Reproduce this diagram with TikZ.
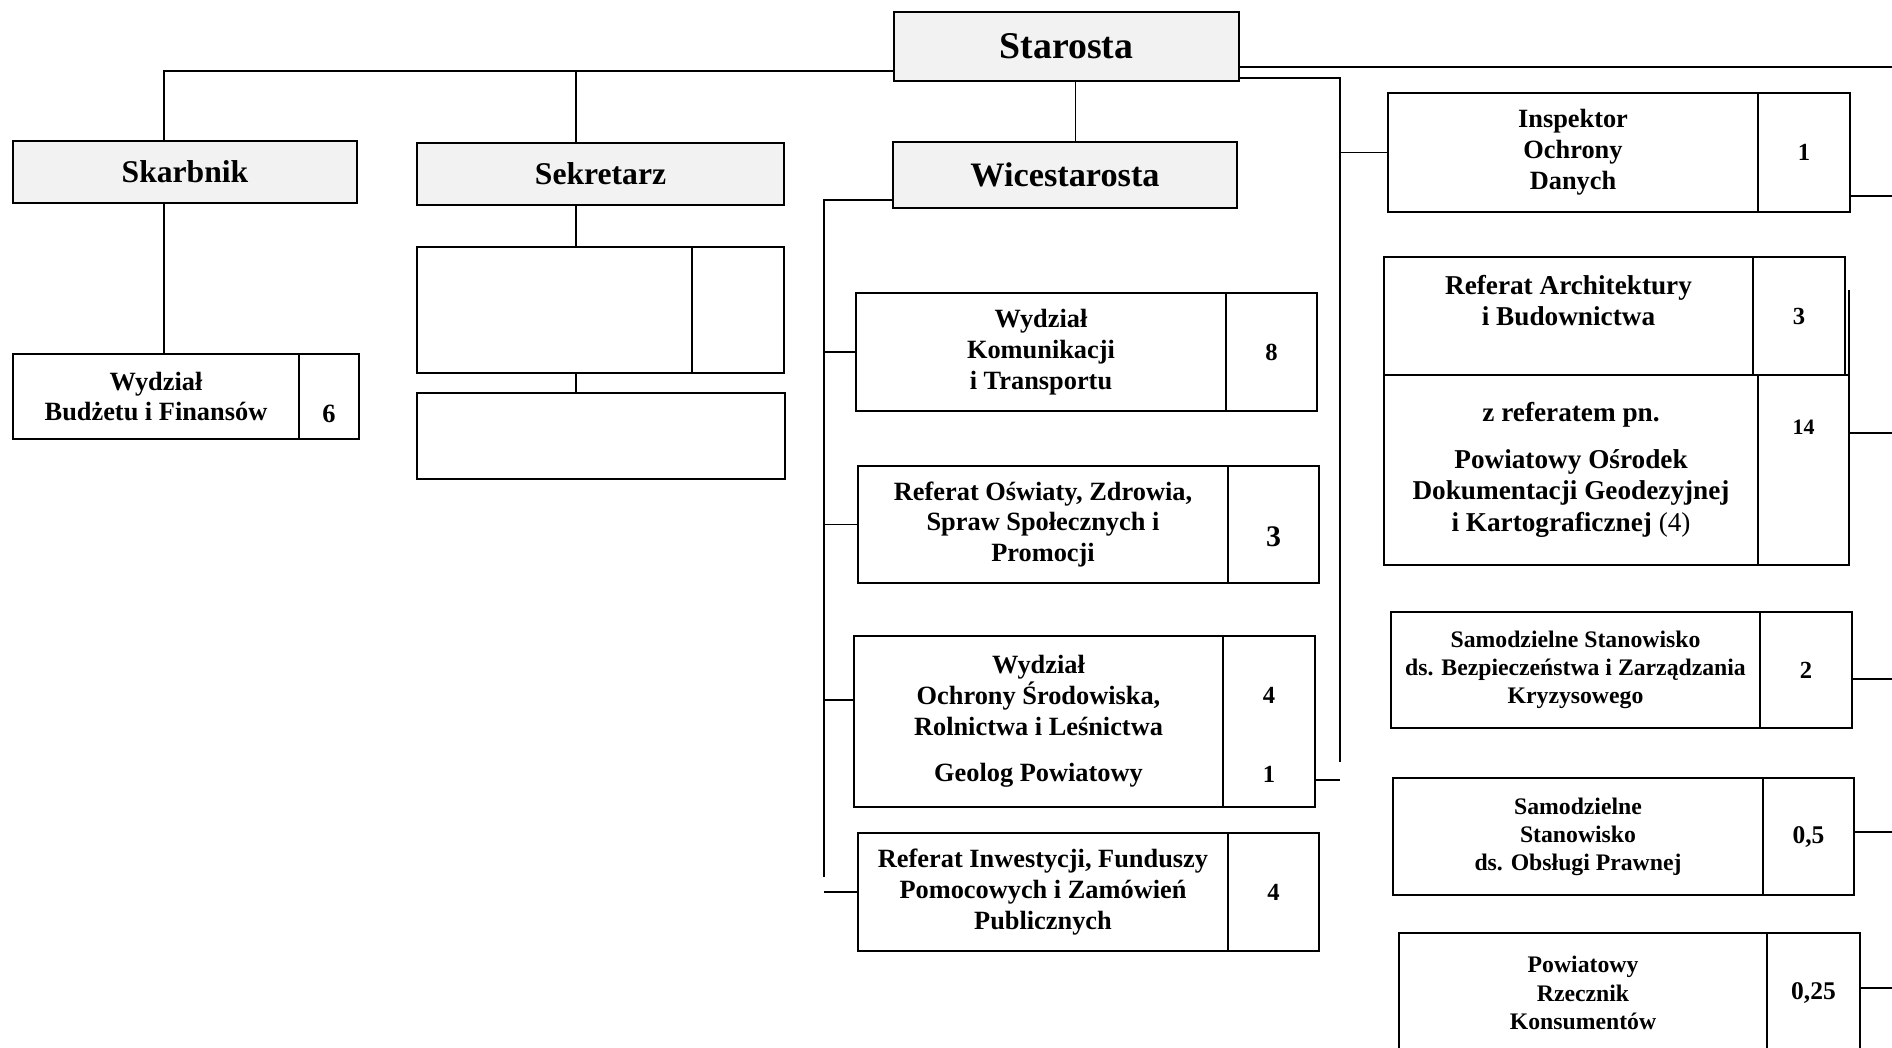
\documentclass[tikz,border=0pt]{standalone}
\usepackage{fontspec}
\setmainfont{Liberation Serif}
\usepackage{xcolor}
\usepackage{tikz}
\usetikzlibrary{positioning}
\definecolor{headgray}{HTML}{F2F2F2}

\begin{document}
\begin{tikzpicture}[
    head/.style={draw, fill=headgray, line width=1.1pt, inner sep=0pt, outer sep=0pt},
    box/.style={draw, line width=1.1pt, inner sep=0pt, outer sep=0pt, align=center,
                font=\fontsize{15}{17.6}\selectfont\bfseries},
    smalltext/.style={font=\fontsize{13.5}{16}\selectfont\bfseries},
    num/.style={box, font=\fontsize{14}{17}\selectfont\bfseries},
    numtxt/.style={inner sep=0pt, font=\fontsize{14}{17}\selectfont\bfseries},
    conn/.style={line width=0.95pt}
  ]
  \useasboundingbox (0,0) rectangle (37.84,-20.96);
  % Heads
  \node[head, font=\fontsize{21.5}{24}\selectfont\bfseries, minimum width=6.90cm,
        minimum height=1.38cm] (ST) at (21.33,-0.93) {Starosta};
  \node[head, font=\fontsize{18}{20}\selectfont\bfseries, minimum width=6.88cm,
        minimum height=1.24cm] (SK) at (3.70,-3.44) {Skarbnik};
  \node[head, font=\fontsize{18}{20}\selectfont\bfseries, minimum width=7.34cm,
        minimum height=1.24cm] (SE) at (12.01,-3.48) {Sekretarz};
  \node[head, font=\fontsize{19.5}{22}\selectfont\bfseries, minimum width=6.88cm,
        minimum height=1.32cm] (WS) at (21.30,-3.50) {Wicestarosta};
  % Skarbnik and Sekretarz column
  \node[box, minimum width=5.72cm, minimum height=1.70cm] (BF) at (3.12,-7.93)
    {Wydział\\Budżetu i Finansów};
  \node[num, minimum width=1.20cm, minimum height=1.70cm, right=0pt of BF] (BFn) {};
  \node[numtxt, font=\fontsize{15}{17}\selectfont\bfseries] (BFv) at ([yshift=-0.35cm]BFn.center) {6};
  \node[box, minimum width=5.50cm, minimum height=2.52cm] (E1) at (11.09,-6.20) {};
  \node[num, minimum width=1.84cm, minimum height=2.52cm, right=0pt of E1] (E1n) {};
  \node[box, minimum width=7.36cm, minimum height=1.72cm] (E2) at (12.02,-8.72) {};
  % Wicestarosta column
  \node[box, minimum width=7.40cm, minimum height=2.36cm] (KT) at (20.82,-7.04)
    {Wydział\\Komunikacji\\i Transportu};
  \node[num, minimum width=1.82cm, minimum height=2.36cm, right=0pt of KT] (KTn) {8};
  \node[box, minimum width=7.40cm, minimum height=2.34cm] (OZ) at (20.86,-10.49)
    {Referat Oświaty, Zdrowia,\\Spraw Społecznych i\\Promocji};
  \node[num, minimum width=1.82cm, minimum height=2.34cm, right=0pt of OZ] (OZn) {};
  \node[numtxt, font=\fontsize{17}{19}\selectfont\bfseries] (OZv) at ([yshift=-0.25cm]OZn.center) {3};
  \node[box, minimum width=7.38cm, minimum height=3.42cm] (OS) at (20.77,-14.43)
    {Wydział\\Ochrony Środowiska,\\Rolnictwa i Leśnictwa\\[0.3cm]Geolog Powiatowy};
  \node[num, minimum width=1.84cm, minimum height=3.42cm, right=0pt of OS] (OSn) {};
  \node[numtxt] (OSv) at ([yshift=0.53cm]OSn.center) {4};
  \node[numtxt] (GPv) at ([yshift=-1.05cm]OSn.center) {1};
  \node[box, minimum width=7.40cm, minimum height=2.36cm] (IF) at (20.86,-17.84)
    {Referat Inwestycji, Funduszy\\Pomocowych i Zamówień\\Publicznych};
  \node[num, minimum width=1.82cm, minimum height=2.36cm, right=0pt of IF] (IFn) {4};
  % Right column
  \node[box, minimum width=7.40cm, minimum height=2.38cm] (IOD) at (31.46,-3.05)
    {Inspektor\\Ochrony\\Danych};
  \node[num, minimum width=1.84cm, minimum height=2.38cm, right=0pt of IOD] (IODn) {1};
  \node[box, font=\fontsize{15.5}{18}\selectfont\bfseries, minimum width=7.38cm,
        minimum height=2.36cm] (AB) at (31.37,-6.32)
    {\strut Referat Architektury\\i Budownictwa\\[-4pt]\strut};
  \node[num, minimum width=1.84cm, minimum height=2.36cm, right=0pt of AB] (ABn) {3};
  \node[box, font=\fontsize{15.5}{18}\selectfont\bfseries, minimum width=7.48cm,
        minimum height=3.80cm] (PD) at (31.42,-9.40)
    {z referatem pn.\\[0.3cm]Powiatowy Ośrodek\\Dokumentacji Geodezyjnej\\
     i Kartograficznej {\mdseries(4)}};
  \node[num, minimum width=1.82cm, minimum height=3.80cm, right=0pt of PD] (PDn) {};
  \node[numtxt, font=\fontsize{12.5}{15}\selectfont\bfseries] (PDv) at ([yshift=0.85cm]PDn.center) {14};
  \node[box, smalltext, minimum width=7.38cm, minimum height=2.32cm] (BZ) at (31.51,-13.40)
    {Samodzielne Stanowisko\\ds. Bezpieczeństwa i Zarządzania\\Kryzysowego};
  \node[num, minimum width=1.84cm, minimum height=2.32cm, right=0pt of BZ] (BZn) {2};
  \node[box, smalltext, minimum width=7.40cm, minimum height=2.34cm] (OP) at (31.56,-16.73)
    {Samodzielne\\Stanowisko\\ds. Obsługi Prawnej};
  \node[num, font=\fontsize{14.5}{17}\selectfont\bfseries, minimum width=1.82cm,
        minimum height=2.34cm, right=0pt of OP] (OPn) {0,5};
  \node[box, smalltext, minimum width=7.36cm, minimum height=2.40cm] (RK) at (31.66,-19.86)
    {Powiatowy\\Rzecznik\\Konsumentów};
  \node[num, font=\fontsize{14.5}{17}\selectfont\bfseries, minimum width=1.86cm,
        minimum height=2.40cm, right=0pt of RK] (RKn) {0,25};
  % Lines below Starosta
  \coordinate (busL) at (3.28,-1.42);
  \coordinate (busS) at (11.52,-1.42);
  \draw[conn] (ST.west |- busL) -- (busL) -- (busL |- SK.north);
  \draw[conn] (busS) -- (busS |- SE.north);
  \draw[conn] (busL |- SK.south) -- (busL |- BF.north);
  \draw[conn] (busS |- SE.south) -- (busS |- E1.north);
  \draw[conn] (busS |- E1.south) -- (busS |- E2.north);
  \coordinate (vice) at ([xshift=0.21cm]WS.north);
  \draw[conn] (vice |- ST.south) -- (vice);
  % Spine on the right of Starosta
  \coordinate (spR) at (26.80,-1.56);
  \coordinate (spRend) at (26.80,-15.24);
  \coordinate (geo) at (26.80,-15.60);
  \draw[conn] (ST.east |- spR) -- (spR) -- (spRend);
  \draw[conn] (spR |- IOD.west) -- (IOD.west);
  \draw[conn] (OSn.east |- geo) -- (geo);
  % Spine of Wicestarosta
  \coordinate (spL) at (16.48,-4.00);
  \coordinate (spLend) at (16.48,-17.54);
  \coordinate (osIn) at ([yshift=0.43cm]OS.west);
  \draw[conn] (WS.west |- spL) -- (spL) -- (spLend);
  \draw[conn] (spL |- KT.west) -- (KT.west);
  \draw[conn] (spL |- OZ.west) -- (OZ.west);
  \draw[conn] (spL |- osIn) -- (osIn);
  \draw[conn] (spL |- IF.west) -- (IF.west);
  % Lines leaving at the right edge
  \foreach \src/\y [count=\i] in {ST/-1.34, IODn/-3.92, PDn/-8.66, BZn/-13.58,
                                  OPn/-16.64, RKn/-19.76} {
    \coordinate (rim\i) at (37.84,\y);
    \draw[conn] (\src.east |- rim\i) -- (rim\i);
  }
  \coordinate (pdTop) at (36.98,-5.80);
  \draw[line width=1.1pt] (PDn.north east) -- (pdTop);
\end{tikzpicture}
\end{document}
